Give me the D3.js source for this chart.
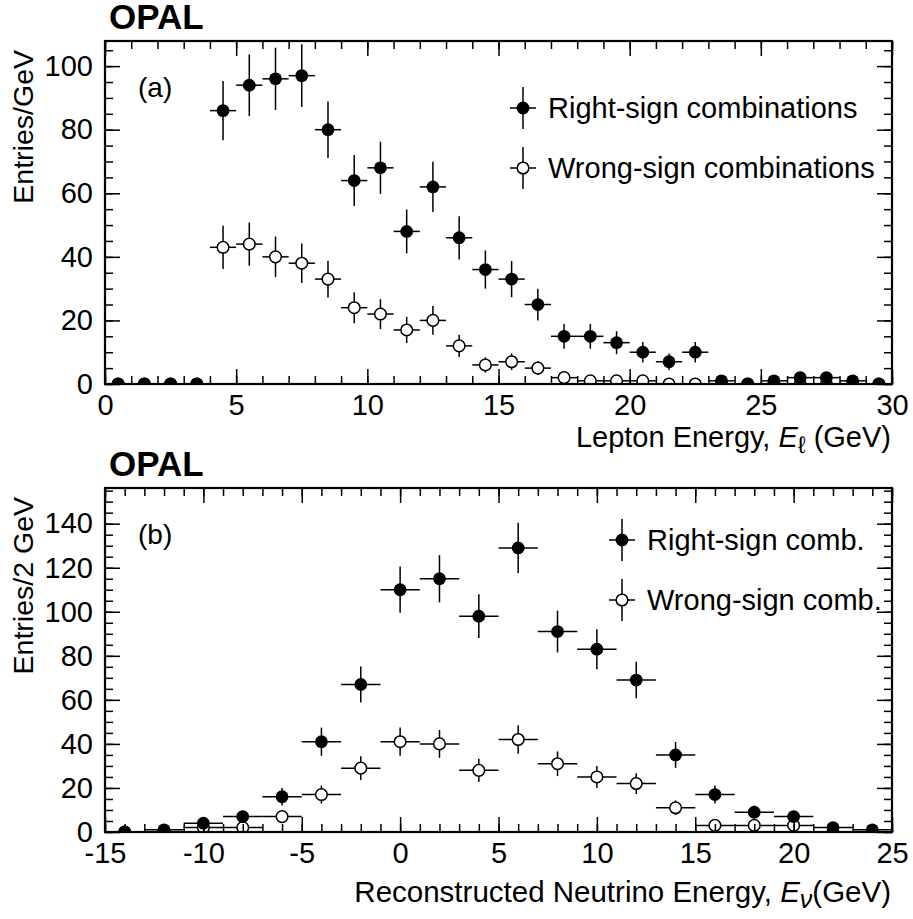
<!DOCTYPE html>
<html>
<head>
<meta charset="utf-8">
<script src="https://cdn.jsdelivr.net/npm/d3@7"></script>
<style>
  body { margin: 0; background: #fff; }
  text { font-family: "Liberation Sans", Arial, sans-serif; fill: #000; }
</style>
</head>
<body>
<svg id="chart" width="913" height="919"></svg>
<script>
// (a) lepton energy, 1 GeV bins
const leptonCentres = [0.5, 1.5, 2.5, 3.5, 4.5, 5.5, 6.5, 7.5, 8.5, 9.5, 10.5, 11.5, 12.5, 13.5, 14.5,
  15.5, 16.5, 17.5, 18.5, 19.5, 20.5, 21.5, 22.5, 23.5, 24.5, 25.5, 26.5, 27.5, 28.5, 29.5];
const leptonRight = [0, 0, 0, 0, 86, 94, 96, 97, 80, 64, 68, 48, 62, 46, 36, 33, 25, 15, 15, 13, 10, 7, 10, 1, 0, 1, 2, 2, 1, 0];
const leptonRightErr = [0, 0, 0, 0, 9.3, 9.7, 9.8, 9.9, 8.9, 8, 8.2, 6.9, 7.9, 6.8, 6, 5.7, 5, 3.9, 3.9, 3.6, 3.2, 2.6, 3.2, 1, 0, 1, 1.4, 1.4, 1, 0];
const leptonWrong = [0, 0, 0, 0, 43, 44, 40, 38, 33, 24, 22, 17, 20, 12, 6, 7, 5, 2, 1, 1, 1, 0, 0, 0, 0, 0, 0, 0, 0, 0];
const leptonWrongErr = [0, 0, 0, 0, 6.8, 6.8, 6.4, 6.2, 5.8, 4.9, 4.7, 4.1, 4.5, 3.5, 2.4, 2.6, 2.2, 1.4, 1, 1, 1, 0, 0, 0, 0, 0, 0, 0, 0, 0];

// (b) reconstructed neutrino energy, 2 GeV bins
const nuCentres = [-14, -12, -10, -8, -6, -4, -2, 0, 2, 4, 6, 8, 10, 12, 14, 16, 18, 20, 22, 24];
const nuRight = [0, 1, 4, 7, 16, 41, 67, 110, 115, 98, 129, 91, 83, 69, 35, 17, 9, 7, 2, 1];
const nuRightErr = [0, 1, 2, 2.6, 4, 6.4, 8.2, 10.5, 10.7, 9.9, 11.4, 9.5, 9.1, 8.3, 5.9, 4.1, 3, 2.6, 1.4, 1];
const nuWrong = [0, 0, 2, 2, 7, 17, 29, 41, 40, 28, 42, 31, 25, 22, 11, 3, 3, 3, 0, 0];
const nuWrongErr = [0, 0, 1.4, 1.4, 2.6, 4.1, 5.4, 6.4, 6.3, 5.3, 6.5, 5.6, 5, 4.7, 3.3, 1.7, 1.7, 1.7, 0, 0];

const svg = d3.select("#chart");
const left = 105, right = 892;
const font = "Liberation Sans, Arial, sans-serif";
const rFilled = 6.4, rOpen = 5.8;

const drawPanel = (p) => {
  const { id, top, bottom, xDomain, yDomain, binWidth, xMajor, xMinor, yMajor, yMinor,
    centres, series, yTitle, tag, legend } = p;

  const x = d3.scaleLinear().domain(xDomain).range([left, right]);
  const y = d3.scaleLinear().domain(yDomain).range([bottom, top]);
  const g = svg.append("g");

  g.append("clipPath").attr("id", "clip-" + id)
    .append("rect").attr("x", left).attr("y", top)
    .attr("width", right - left).attr("height", bottom - top);

  const data = g.append("g").attr("clip-path", `url(#clip-${id})`);

  series.forEach((s) => {
    const pts = centres.map((c, i) => ({ x: c, v: s.values[i], e: s.errors[i] }));
    const sg = data.append("g");
    sg.selectAll(".hbar").data(pts).join("line")
      .attr("x1", (d) => x(d.x - binWidth / 2)).attr("x2", (d) => x(d.x + binWidth / 2))
      .attr("y1", (d) => y(d.v)).attr("y2", (d) => y(d.v))
      .attr("stroke", "#000").attr("stroke-width", 1.5);
    sg.selectAll(".vbar").data(pts.filter((d) => d.e > 0)).join("line")
      .attr("x1", (d) => x(d.x)).attr("x2", (d) => x(d.x))
      .attr("y1", (d) => y(d.v - d.e)).attr("y2", (d) => y(d.v + d.e))
      .attr("stroke", "#000").attr("stroke-width", 1.5);
    s.points = pts;
  });
  // markers after all bars (wrong-sign first so right-sign sits on top)
  series.slice().reverse().forEach((s) => {
    data.append("g").selectAll("circle").data(s.points).join("circle")
      .attr("cx", (d) => x(d.x)).attr("cy", (d) => y(d.v))
      .attr("r", s.filled ? rFilled : rOpen)
      .attr("fill", s.filled ? "#000" : "#fff")
      .attr("stroke", "#000").attr("stroke-width", s.filled ? 0 : 1.5);
  });

  // axes, ticks pointing inwards on all four sides
  const fmt = (d) => String(d);
  const style = (sel) => {
    sel.select(".domain").remove();
    sel.selectAll("line").attr("stroke", "#000").attr("stroke-width", 1.5);
    sel.selectAll("text").attr("font-size", 29).attr("font-family", font);
  };
  g.append("g").attr("transform", `translate(0,${bottom})`)
    .call(d3.axisBottom(x).tickValues(xMinor).tickSize(-8).tickFormat("")).call(style);
  g.append("g").attr("transform", `translate(0,${bottom})`)
    .call(d3.axisBottom(x).tickValues(xMajor).tickSize(-15).tickPadding(10).tickFormat(fmt)).call(style);
  g.append("g").attr("transform", `translate(0,${top})`)
    .call(d3.axisTop(x).tickValues(xMinor).tickSize(-8).tickFormat("")).call(style);
  g.append("g").attr("transform", `translate(0,${top})`)
    .call(d3.axisTop(x).tickValues(xMajor).tickSize(-15).tickFormat("")).call(style);
  g.append("g").attr("transform", `translate(${left},0)`)
    .call(d3.axisLeft(y).tickValues(yMinor).tickSize(-8).tickFormat("")).call(style);
  g.append("g").attr("transform", `translate(${left},0)`)
    .call(d3.axisLeft(y).tickValues(yMajor).tickSize(-15).tickPadding(12).tickFormat(fmt)).call(style);
  g.append("g").attr("transform", `translate(${right},0)`)
    .call(d3.axisRight(y).tickValues(yMinor).tickSize(-8).tickFormat("")).call(style);
  g.append("g").attr("transform", `translate(${right},0)`)
    .call(d3.axisRight(y).tickValues(yMajor).tickSize(-15).tickFormat("")).call(style);

  g.append("rect").attr("x", left).attr("y", top)
    .attr("width", right - left).attr("height", bottom - top)
    .attr("fill", "none").attr("stroke", "#000").attr("stroke-width", 2.2);

  g.append("text").attr("x", 109).attr("y", top - 12)
    .attr("font-size", 35).attr("font-weight", "bold").text("OPAL");

  g.append("text").attr("transform", `translate(33,${top + 9}) rotate(-90)`)
    .attr("text-anchor", "end").attr("font-size", 28.5).text(yTitle);

  g.append("text").attr("x", 138).attr("y", top + 56)
    .attr("font-size", 28).text(tag);

  // legend
  legend.forEach((l, i) => {
    const ly = top + legend.y0 + i * 60;
    const lx = legend.x;
    g.append("line").attr("x1", lx).attr("x2", lx).attr("y1", ly - 21).attr("y2", ly + 21)
      .attr("stroke", "#000").attr("stroke-width", 1.5);
    g.append("line").attr("x1", lx - 13).attr("x2", lx + 13).attr("y1", ly).attr("y2", ly)
      .attr("stroke", "#000").attr("stroke-width", 1.5);
    g.append("circle").attr("cx", lx).attr("cy", ly).attr("r", l.filled ? rFilled : rOpen)
      .attr("fill", l.filled ? "#000" : "#fff").attr("stroke", "#000")
      .attr("stroke-width", l.filled ? 0 : 1.5);
    g.append("text").attr("x", lx + 25).attr("y", ly + 10)
      .attr("font-size", 29).text(l.label);
  });

  return g;
};

const legendA = [
  { label: "Right-sign combinations", filled: true },
  { label: "Wrong-sign combinations", filled: false },
];
legendA.x = 523; legendA.y0 = 67;

const legendB = [
  { label: "Right-sign comb.", filled: true },
  { label: "Wrong-sign comb.", filled: false },
];
legendB.x = 622; legendB.y0 = 52;

drawPanel({
  id: "a", top: 41, bottom: 384, xDomain: [0, 30], yDomain: [0, 107.9], binWidth: 1,
  xMajor: d3.range(0, 31, 5), xMinor: d3.range(0, 31, 1),
  yMajor: d3.range(0, 101, 20), yMinor: d3.range(0, 106, 5),
  centres: leptonCentres,
  series: [
    { values: leptonRight, errors: leptonRightErr, filled: true },
    { values: leptonWrong, errors: leptonWrongErr, filled: false },
  ],
  yTitle: "Entries/GeV", tag: "(a)", legend: legendA,
});

drawPanel({
  id: "b", top: 488, bottom: 832, xDomain: [-15, 25], yDomain: [0, 156.2], binWidth: 2,
  xMajor: d3.range(-15, 26, 5), xMinor: d3.range(-15, 26, 1),
  yMajor: d3.range(0, 141, 20), yMinor: d3.range(0, 156, 5),
  centres: nuCentres,
  series: [
    { values: nuRight, errors: nuRightErr, filled: true },
    { values: nuWrong, errors: nuWrongErr, filled: false },
  ],
  yTitle: "Entries/2 GeV", tag: "(b)", legend: legendB,
});

// x-axis titles with italic symbols
const t1 = svg.append("text").attr("x", 891).attr("y", 447)
  .attr("text-anchor", "end").attr("font-size", 29);
t1.append("tspan").text("Lepton Energy, ");
t1.append("tspan").attr("font-style", "italic").text("E");
t1.append("tspan").attr("font-size", 24).attr("dy", 6).text("ℓ");
t1.append("tspan").attr("dy", -6).text("  (GeV)");

const t2 = svg.append("text").attr("x", 891).attr("y", 902)
  .attr("text-anchor", "end").attr("font-size", 29.5);
t2.append("tspan").text("Reconstructed Neutrino Energy, ");
t2.append("tspan").attr("font-style", "italic").text("E");
t2.append("tspan").attr("font-style", "italic").attr("font-size", 25).attr("dy", 6).text("ν");
t2.append("tspan").attr("dy", -6).text("(GeV)");
</script>
</body>
</html>
